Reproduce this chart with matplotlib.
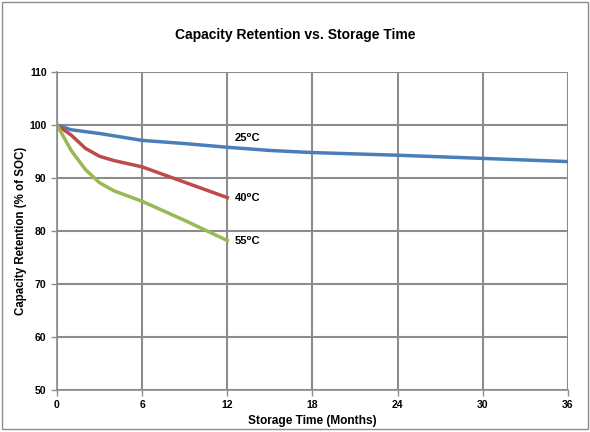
import matplotlib.pyplot as plt
from matplotlib.patches import Rectangle

plt.rcParams['font.family'] = ['Liberation Sans', 'DejaVu Sans']

# дані
months25 = [0, 1, 3, 6, 9, 12, 15, 18, 24, 30, 36]
ret25 = [100, 99.1, 98.4, 97.1, 96.5, 95.8, 95.2, 94.8, 94.3, 93.7, 93.1]

months40 = [0, 1, 2, 3, 4, 6, 9, 12]
ret40 = [100, 98.1, 95.6, 94.1, 93.3, 92.1, 89.2, 86.3]

months55 = [0, 1, 2, 3, 4, 6, 9, 12]
ret55 = [100, 95.2, 91.6, 89.1, 87.6, 85.6, 82.0, 78.2]

xticks = [0, 6, 12, 18, 24, 30, 36]
yticks = [50, 60, 70, 80, 90, 100, 110]

fig = plt.figure(figsize=(5.9, 4.32), dpi=100)
ax = fig.add_axes([0.0966, 0.0972, 0.8661, 0.7361])

# рамка навколо всього рисунка
fig.patches.append(Rectangle((0.004, 0.006), 0.992, 0.99, transform=fig.transFigure,
                             fill=False, edgecolor='#8c8c8c', linewidth=1))

ax.plot(months25, ret25, color='#4a7ebb', linewidth=2.5, solid_joinstyle='round')
ax.plot(months40, ret40, color='#be4b48', linewidth=2.5, solid_joinstyle='round')
ax.plot(months55, ret55, color='#98b954', linewidth=2.5, solid_joinstyle='round')

ax.text(12.5, 97.0, '25⁰C', fontsize=8, fontweight='bold')
ax.text(12.5, 85.6, '40⁰C', fontsize=8, fontweight='bold')
ax.text(12.5, 77.5, '55⁰C', fontsize=8, fontweight='bold')

ax.set_xlim(0, 36)
ax.set_ylim(50, 110)
ax.set_xticks(xticks)
ax.set_yticks(yticks)
ax.tick_params(labelsize=7.5, colors='#8c8c8c', labelcolor='black', length=4, width=1)
for lbl in ax.get_xticklabels() + ax.get_yticklabels():
    lbl.set_fontweight('bold')

ax.grid(True, color='#8c8c8c', linewidth=1.5)
ax.set_axisbelow(True)
for side in ['top', 'right']:
    ax.spines[side].set_visible(False)
for side in ['left', 'bottom']:
    ax.spines[side].set_color('#8c8c8c')
    ax.spines[side].set_linewidth(1.2)

ax.set_xlabel('Storage Time (Months)', fontsize=8.6, fontweight='bold', labelpad=3)
ax.set_ylabel('Capacity Retention (% of SOC)', fontsize=8.3, fontweight='bold', labelpad=2)
fig.text(0.5, 0.918, 'Capacity Retention vs. Storage Time', ha='center', va='center',
         fontsize=10, fontweight='bold')

fig.savefig('out.png', dpi=100)
